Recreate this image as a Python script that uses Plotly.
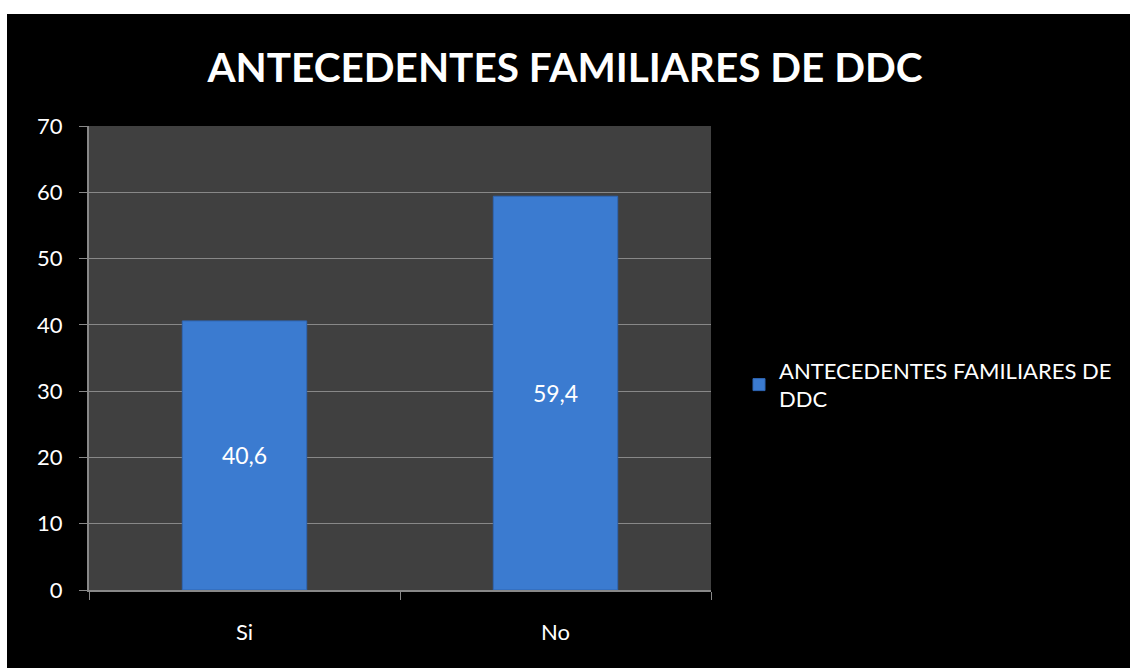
import plotly.graph_objects as go

categories = ["Si", "No"]
values = [40.6, 59.4]
series_name = "ANTECEDENTES FAMILIARES DE<br>DDC"
title_text = "ANTECEDENTES FAMILIARES DE DDC"

W, H = 1130, 668
L, R, T, B = 89, 711, 126, 590
pw, ph = R - L, B - T

def px_x(px):
    return (px - L) / pw

def px_y(py):
    return (B - py) / ph

fig = go.Figure()
fig.add_trace(go.Bar(
    x=categories, y=values, name=series_name,
    marker=dict(color="#3B7BD0", line=dict(color="#2F66B3", width=1)),
    texttemplate="%{y:.1f}", textposition="inside", insidetextanchor="middle",
    textfont=dict(color="white", size=23, family="Lato"),
    showlegend=True,
))

fig.update_layout(
    width=W, height=H,
    margin=dict(l=L, r=W - R, t=T, b=H - B, pad=0),
    paper_bgcolor="black", plot_bgcolor="#404040",
    separators=",.",
    bargap=0.6,
    font=dict(family="Lato", color="white", size=22),
    title=dict(text="<b>" + title_text + "</b>", x=0.5, xanchor="center",
               y=1 - 68 / H, yanchor="middle",
               font=dict(size=40.5, color="white", family="Lato")),
    showlegend=True,
    legend=dict(x=px_x(739), y=px_y(385), xanchor="left", yanchor="middle",
                font=dict(size=22, color="white", family="Lato"),
                bgcolor="rgba(0,0,0,0)", itemwidth=30),
    xaxis=dict(showgrid=False, showline=True, linecolor="#888888", linewidth=2,
               ticks="outside", tickson="boundaries", ticklen=8, tickcolor="#888888",
               tickwidth=1, tickfont=dict(size=22, color="white"),
               ticklabelstandoff=22),
    yaxis=dict(range=[0, 70], dtick=10, showgrid=True, gridcolor="#888888", gridwidth=1,
               showline=True, linecolor="#888888", linewidth=2,
               ticks="outside", ticklen=8, tickcolor="#888888", tickwidth=1,
               tickfont=dict(size=22, color="white"), zeroline=False,
               ticklabelstandoff=12),
    shapes=[
        dict(type="rect", xref="paper", yref="paper", x0=px_x(-20), x1=px_x(1200),
             y0=px_y(14), y1=px_y(-20), fillcolor="white", line=dict(width=0), layer="above"),
        dict(type="rect", xref="paper", yref="paper", x0=px_x(-20), x1=px_x(7),
             y0=px_y(700), y1=px_y(-20), fillcolor="white", line=dict(width=0), layer="above"),
    ],
)

fig.write_html("out.html", config={"displayModeBar": False},
               post_script="document.body.style.margin='0';document.body.style.overflow='hidden';")
